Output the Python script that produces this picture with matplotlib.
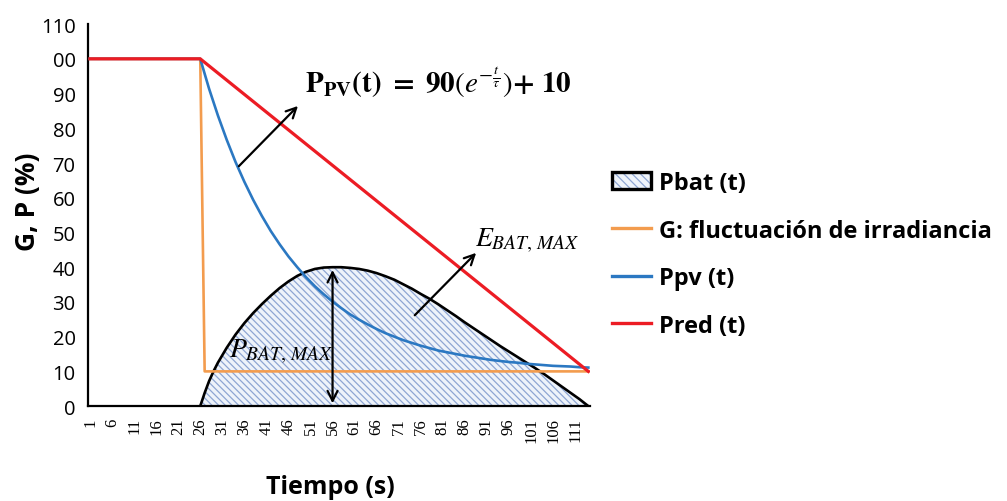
import matplotlib
matplotlib.use("Agg")
import matplotlib.pyplot as plt
from matplotlib.patches import Patch
from matplotlib.lines import Line2D
from matplotlib.legend_handler import HandlerTuple

plt.rcParams["mathtext.fontset"] = "stix"
plt.rcParams["hatch.linewidth"] = 0.9

# ---- data -------------------------------------------------------------
t_red = [1, 26, 114]
p_red = [100, 100, 10]

t_g = [1, 26, 27, 114]
g_irr = [100, 100, 10, 10]

t_pv = [1] + list(range(26, 115, 2))
p_pv = [100,
        100, 91.4, 83.7, 76.7, 70.3, 64.6, 59.4, 54.7, 50.4, 46.6,
        43.1, 40.0, 37.1, 34.5, 32.2, 30.1, 28.2, 26.4, 24.9, 23.5,
        22.2, 21.0, 20.0, 19.0, 18.2, 17.4, 16.7, 16.0, 15.5, 15.0,
        14.5, 14.1, 13.7, 13.3, 13.0, 12.7, 12.5, 12.2, 12.0, 11.8,
        11.6, 11.5, 11.4, 11.2, 11.1]

t_bat = [26, 27, 28, 29, 30] + list(range(32, 115, 2))
p_bat = [0, 3.8, 7.2, 10.0, 12.5,
         16.8, 20.6, 23.9, 26.8, 29.4, 31.8, 34.0, 35.9, 37.5, 38.7,
         39.5, 39.9, 40.0, 40.0, 39.8, 39.5, 39.0, 38.3, 37.4, 36.4,
         35.1, 33.8, 32.3, 30.9, 29.3, 27.6, 25.9, 24.1, 22.4, 20.7,
         19.0, 17.3, 15.7, 14.1, 12.5, 10.9, 9.2, 7.4, 5.6, 3.8,
         2.0, 0]

x_ticks = list(range(1, 112, 5))
x_labels = [str(v) for v in x_ticks]
y_ticks = [0, 10, 20, 30, 40, 50, 60, 70, 80, 90, 100, 110]
y_labels = ["0", "10", "20", "30", "40", "50", "60", "70", "80", "90", "00", "110"]

t_peak = 56
p_peak = 40

# ---- colours ----------------------------------------------------------
c_red = "#ec1c24"
c_blue = "#2b78c2"
c_orange = "#f39c4e"
c_hatch = "#8ea6d3"
c_fill = "#eef3fa"

fig = plt.figure(figsize=(10.07, 5.02), dpi=100)
ax = fig.add_axes([0.0874, 0.189, 0.4986, 0.761])

ax.fill_between(t_bat, p_bat, 0, facecolor=c_fill, edgecolor=c_hatch,
                hatch="\\\\\\\\\\", linewidth=0, zorder=1)
ax.plot(t_bat, p_bat, color="black", lw=1.9, zorder=3)
ax.plot(t_g, g_irr, color=c_orange, lw=1.9, zorder=4)
ax.plot(t_pv, p_pv, color=c_blue, lw=1.9, zorder=5)
ax.plot(t_red, p_red, color=c_red, lw=2.3, zorder=6)

ax.set_xlim(0.55, 114.4)
ax.set_ylim(0, 110)
for s in ["top", "right"]:
    ax.spines[s].set_visible(False)
for s in ["left", "bottom"]:
    ax.spines[s].set_linewidth(1.6)
    ax.spines[s].set_color("black")
ax.tick_params(length=0)
ax.set_xticks(x_ticks)
ax.set_xticklabels(x_labels, rotation=90, fontfamily="Liberation Serif",
                   fontsize=12, va="top")
ax.set_yticks(y_ticks)
ax.set_yticklabels(y_labels, fontfamily="Open Sans", fontsize=14.5)
ax.tick_params(axis="y", pad=9)
ax.tick_params(axis="x", pad=8)

fig.text(27 / 1007, 1 - 202 / 502, "G, P (%)", rotation=90,
         fontfamily="Open Sans", fontweight="bold", fontsize=19,
         ha="center", va="center")
fig.text(330 / 1007, 1 - 488 / 502, "Tiempo (s)", fontfamily="Open Sans",
         fontweight="bold", fontsize=18, ha="center", va="center")

# ---- annotations ------------------------------------------------------
arrow_kw = dict(arrowstyle="->", color="black", lw=1.6, mutation_scale=18)
ax.annotate("", xy=(48.6, 87.0), xytext=(34.3, 68.5), arrowprops=arrow_kw,
            zorder=7)
ax.annotate("", xy=(89.0, 44.7), xytext=(74.2, 25.6), arrowprops=arrow_kw,
            zorder=7)
ax.annotate("", xy=(t_peak, p_peak), xytext=(t_peak, 0),
            arrowprops=dict(arrowstyle="<->", color="black", lw=1.6,
                            mutation_scale=18), zorder=7)

ax.text(49.8, 93.5,
        r"$\mathbf{P_{PV}(t)\ =\ 90}\left(e^{-\frac{t}{\tau}}\right)\mathbf{+\ 10}$",
        fontsize=21, ha="left", va="center", zorder=8)
ax.text(88.3, 48.0, r"$E_{BAT,\,MAX}$", fontsize=20, ha="left",
        va="center", zorder=8)
ax.text(32.5, 15.9, r"$P_{BAT,\,MAX}$", fontsize=20, ha="left",
        va="center", zorder=8)

# ---- legend -----------------------------------------------------------
bat_handle = (Patch(facecolor=c_fill, edgecolor=c_hatch, hatch="\\\\\\\\",
                    linewidth=0),
              Patch(facecolor="none", edgecolor="black", linewidth=2.4))
handles = [bat_handle,
           Line2D([], [], color=c_orange, lw=2.4),
           Line2D([], [], color=c_blue, lw=2.4),
           Line2D([], [], color=c_red, lw=2.4)]
labels = ["Pbat (t)", "G: fluctuación de irradiancia", "Ppv (t)", "Pred (t)"]
fig.legend(handles, labels, loc="upper left",
           bbox_to_anchor=(612 / 1007, 1 - 172 / 502), frameon=False,
           borderpad=0, borderaxespad=0,
           handler_map={tuple: HandlerTuple(ndivide=1, pad=0)},
           prop=dict(family="Open Sans", weight="bold", size=17),
           handlelength=1.65, handleheight=0.75, handletextpad=0.35,
           labelspacing=1.0)

fig.savefig("out.png", dpi=100)
